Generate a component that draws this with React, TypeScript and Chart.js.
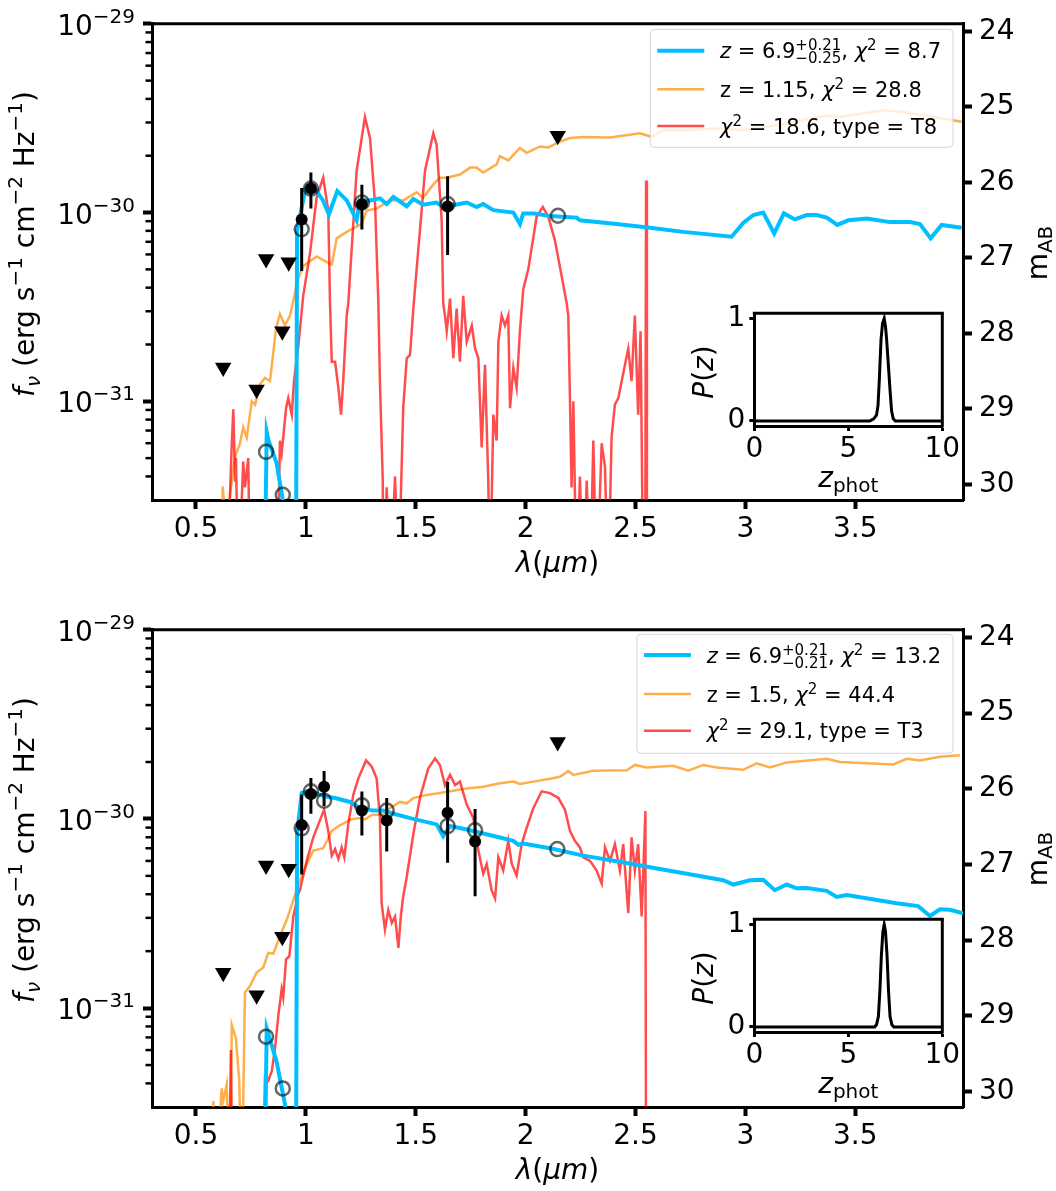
import React, { useEffect, useRef } from 'react';
import { Chart, registerables } from 'chart.js';

Chart.register(...registerables);

const FONT = "'DejaVu Sans', 'Noto Sans', sans-serif";
const W = 1056;

// ---------- axis ranges and ticks ----------
const FLUX_UNIT = 1e-30; // erg s^-1 cm^-2 Hz^-1
const FLUX_MIN = 3.0e-32;
const FLUX_MAX = 1e-29;
const LAM_MIN = 0.3;
const LAM_MAX = 3.99;
const LAM_TICKS = [0.5, 1, 1.5, 2, 2.5, 3, 3.5];
const MAG_TICKS = [24, 25, 26, 27, 28, 29, 30];
const FLUX_MAJOR_EXP = [-31, -30, -29];
const PZ_X_TICKS = [0, 5, 10];
const PZ_Y_TICKS = [0, 1];

const BLUE = 'rgb(0,191,255)';
const ORANGE = 'rgba(255,140,0,0.7)';
const RED = 'rgba(255,0,0,0.7)';
const GREY = 'rgba(0,0,0,0.6)';

// ---------- panel A (top) : [lambda (um), flux (1e-30 cgs)] ----------
const A_BLUE = [[0.800,0.01],[0.812,0.01],[0.822,0.0686],[0.830,0.062],[0.867,0.047],[0.895,0.030],[0.910,0.01],[0.955,0.01],[0.960,0.80],[0.998,1.34],[1.004,1.36],[1.049,1.30],[1.078,1.16],[1.105,0.98],[1.143,1.30],[1.186,1.16],[1.231,0.91],[1.246,1.16],[1.292,1.16],[1.337,1.19],[1.368,1.11],[1.398,1.21],[1.459,1.08],[1.489,1.18],[1.534,1.10],[1.595,1.13],[1.625,1.07],[1.732,1.13],[1.777,1.07],[1.807,1.11],[1.853,1.03],[1.944,1.00],[1.974,0.87],[1.989,0.99],[2.035,0.99],[2.111,0.96],[2.232,0.94],[2.247,0.91],[2.414,0.87],[2.566,0.83],[2.717,0.79],[2.937,0.745],[2.990,0.88],[3.036,0.97],[3.081,1.00],[3.131,0.775],[3.175,0.99],[3.225,0.92],[3.279,0.97],[3.324,0.97],[3.370,0.94],[3.418,0.86],[3.468,0.91],[3.552,0.93],[3.658,0.89],[3.749,0.89],[3.794,0.87],[3.843,0.73],[3.893,0.86],[3.984,0.83]];
const A_ORANGE = [[0.612,0.01],[0.622,0.0354],[0.637,0.02],[0.655,0.032],[0.678,0.0508],[0.700,0.0596],[0.715,0.0728],[0.731,0.0644],[0.754,0.100],[0.769,0.096],[0.791,0.123],[0.814,0.133],[0.837,0.128],[0.864,0.242],[0.882,0.290],[0.905,0.252],[0.928,0.285],[0.951,0.377],[0.958,0.425],[0.988,0.52],[1.049,0.585],[1.079,0.56],[1.118,0.53],[1.140,0.73],[1.186,0.79],[1.254,0.87],[1.277,1.025],[1.322,1.05],[1.383,1.16],[1.443,1.16],[1.504,1.28],[1.534,1.20],[1.580,1.41],[1.610,1.53],[1.641,1.53],[1.701,1.59],[1.747,1.73],[1.777,1.73],[1.807,1.63],[1.868,1.80],[1.883,1.99],[1.921,1.89],[1.974,2.20],[2.005,2.07],[2.065,2.24],[2.103,2.21],[2.156,2.38],[2.202,2.48],[2.262,2.51],[2.384,2.50],[2.520,2.63],[2.573,2.52],[2.626,2.74],[2.748,2.74],[2.869,2.79],[2.990,2.74],[3.157,2.92],[3.279,3.11],[3.370,3.27],[3.430,3.21],[3.635,3.48],[3.734,3.39],[3.885,3.17],[3.984,3.03]];
const A_RED = [[0.640,0.01],[0.663,0.0596],[0.670,0.0908],[0.678,0.038],[0.682,0.05],[0.693,0.01],[0.715,0.048],[0.723,0.035],[0.738,0.05],[0.746,0.01],[0.870,0.01],[0.882,0.0618],[0.890,0.053],[0.910,0.092],[0.920,0.104],[0.936,0.085],[0.946,0.128],[0.966,0.198],[0.988,0.362],[1.019,0.61],[1.049,1.2],[1.079,1.53],[1.102,1.025],[1.110,0.33],[1.118,0.162],[1.133,0.162],[1.148,0.118],[1.160,0.085],[1.170,0.128],[1.186,0.285],[1.193,0.33],[1.231,1.66],[1.269,3.21],[1.292,2.48],[1.315,1.11],[1.330,0.33],[1.337,0.128],[1.350,0.038],[1.352,0.01],[1.368,0.035],[1.383,0.01],[1.406,0.040],[1.421,0.01],[1.443,0.092],[1.459,0.169],[1.474,0.176],[1.489,0.31],[1.504,0.50],[1.542,1.66],[1.580,2.63],[1.595,2.29],[1.618,0.91],[1.625,0.33],[1.633,0.285],[1.641,0.235],[1.656,0.35],[1.671,0.169],[1.686,0.31],[1.701,0.162],[1.716,0.362],[1.732,0.207],[1.755,0.252],[1.770,0.19],[1.785,0.169],[1.800,0.057],[1.815,0.156],[1.830,0.038],[1.838,0.01],[1.853,0.085],[1.868,0.062],[1.876,0.207],[1.891,0.285],[1.906,0.252],[1.921,0.285],[1.929,0.092],[1.944,0.15],[1.959,0.118],[1.974,0.235],[1.989,0.39],[2.012,0.5],[2.050,0.95],[2.078,1.07],[2.103,0.95],[2.133,0.715],[2.164,0.46],[2.187,0.33],[2.194,0.285],[2.202,0.10],[2.209,0.035],[2.217,0.10],[2.232,0.01],[2.247,0.04],[2.262,0.01],[2.278,0.038],[2.293,0.01],[2.308,0.062],[2.323,0.01],[2.346,0.06],[2.361,0.045],[2.376,0.01],[2.391,0.064],[2.406,0.096],[2.422,0.104],[2.437,0.128],[2.452,0.156],[2.467,0.19],[2.482,0.128],[2.497,0.285],[2.512,0.085],[2.523,0.235],[2.535,0.01],[2.544,0.01],[2.548,1.48],[2.552,0.01]];
// detections: [lambda, flux, sigma]
const A_DET = [[0.981,0.92,0.43],[1.023,1.34,0.29],[1.255,1.107,0.295],[1.645,1.076,0.48]];
const A_MODEL = [[0.819,0.054],[0.895,0.032],[0.981,0.816],[1.023,1.34],[1.255,1.13],[1.645,1.11],[2.147,0.962]];
const A_LIMIT = [[0.624,0.151],[0.776,0.1155],[0.819,0.567],[0.893,0.235],[0.922,0.545],[2.146,2.55]];
const A_PZ = [[0,0],[6.15,0],[6.35,0.02],[6.5,0.055],[6.58,0.15],[6.65,0.4],[6.74,0.79],[6.82,0.95],[6.91,1.0],[6.98,0.92],[7.04,0.79],[7.13,0.55],[7.22,0.3],[7.3,0.1],[7.39,0.02],[7.5,0],[10,0]];
const A_LEGEND = [
  [{ t: 'z', it: true }, { t: ' = 6.9' }, { sup: '+0.21', sub: '\u22120.25' }, { t: ', ' }, { t: '\u03c7', it: true }, { t: '2', size: 15, dy: -8 }, { t: ' = 8.7' }],
  [{ t: 'z = 1.15, ' }, { t: '\u03c7', it: true }, { t: '2', size: 15, dy: -8 }, { t: ' = 28.8' }],
  [{ t: '\u03c7', it: true }, { t: '2', size: 15, dy: -8 }, { t: ' = 18.6, type = T8' }],
];

// ---------- panel B (bottom) ----------
const B_BLUE = [[0.800,0.01],[0.811,0.01],[0.822,0.078],[0.867,0.052],[0.905,0.031],[0.930,0.01],[0.955,0.01],[0.960,0.83],[0.981,1.37],[1.019,1.41],[1.079,1.32],[1.133,1.29],[1.201,1.23],[1.246,1.14],[1.307,1.107],[1.352,1.107],[1.413,1.055],[1.474,1.01],[1.595,0.936],[1.625,0.81],[1.656,0.917],[1.732,0.88],[1.807,0.837],[1.883,0.798],[1.944,0.766],[1.967,0.73],[1.989,0.742],[2.111,0.70],[2.262,0.64],[2.414,0.598],[2.566,0.556],[2.733,0.513],[2.899,0.474],[2.945,0.45],[3.021,0.474],[3.081,0.477],[3.134,0.42],[3.188,0.45],[3.233,0.43],[3.279,0.432],[3.370,0.417],[3.415,0.387],[3.461,0.396],[3.688,0.358],[3.786,0.346],[3.840,0.307],[3.885,0.333],[3.931,0.331],[3.991,0.317]];
const B_ORANGE = [[0.570,0.01],[0.579,0.0323],[0.587,0.01],[0.617,0.0376],[0.624,0.0323],[0.640,0.0395],[0.655,0.01],[0.663,0.0813],[0.682,0.069],[0.697,0.0413],[0.708,0.01],[0.723,0.121],[0.746,0.131],[0.776,0.154],[0.806,0.164],[0.829,0.196],[0.852,0.194],[0.882,0.24],[0.913,0.293],[0.943,0.372],[0.973,0.473],[1.004,0.578],[1.034,0.68],[1.079,0.70],[1.118,0.864],[1.148,0.917],[1.186,0.966],[1.201,0.994],[1.246,1.01],[1.269,0.994],[1.300,1.05],[1.352,1.055],[1.383,1.14],[1.428,1.23],[1.459,1.21],[1.489,1.29],[1.550,1.34],[1.610,1.37],[1.671,1.41],[1.732,1.45],[1.807,1.48],[1.883,1.545],[1.944,1.575],[1.974,1.53],[2.035,1.575],[2.111,1.63],[2.156,1.67],[2.194,1.79],[2.217,1.71],[2.308,1.80],[2.460,1.81],[2.497,1.93],[2.551,1.87],[2.672,1.91],[2.740,1.80],[2.808,1.93],[2.869,1.87],[2.990,1.82],[3.051,1.97],[3.112,1.87],[3.188,1.99],[3.370,2.08],[3.430,2.00],[3.673,1.94],[3.734,2.08],[3.794,2.04],[3.885,2.13],[3.976,2.17]];
const B_RED = [[0.650,0.01],[0.659,0.060],[0.665,0.01],[0.805,0.01],[0.814,0.043],[0.829,0.0413],[0.845,0.0464],[0.860,0.0615],[0.875,0.0918],[0.890,0.126],[0.897,0.114],[0.910,0.181],[0.925,0.188],[0.943,0.305],[0.966,0.403],[0.973,0.42],[1.004,0.60],[1.034,0.80],[1.057,0.936],[1.083,1.12],[1.102,0.864],[1.118,0.64],[1.133,0.693],[1.148,0.615],[1.163,0.707],[1.175,0.627],[1.193,0.936],[1.216,1.34],[1.239,1.64],[1.274,2.04],[1.300,1.89],[1.322,1.64],[1.337,1.01],[1.345,0.358],[1.360,0.26],[1.375,0.33],[1.391,0.282],[1.406,0.305],[1.421,0.208],[1.432,0.305],[1.443,0.39],[1.459,0.493],[1.489,0.83],[1.519,1.29],[1.557,1.85],[1.588,2.09],[1.610,1.93],[1.633,1.51],[1.656,1.71],[1.679,1.51],[1.701,1.575],[1.732,1.19],[1.762,1.01],[1.785,0.68],[1.807,0.513],[1.823,0.578],[1.845,0.42],[1.861,0.38],[1.876,0.627],[1.898,0.534],[1.921,0.766],[1.937,0.578],[1.959,0.503],[1.982,0.736],[2.005,0.90],[2.035,1.14],[2.073,1.40],[2.111,1.37],[2.149,1.29],[2.179,1.12],[2.202,0.864],[2.224,0.766],[2.247,0.707],[2.262,0.627],[2.293,0.60],[2.323,0.534],[2.346,0.455],[2.361,0.707],[2.384,0.60],[2.406,0.736],[2.429,0.534],[2.444,0.736],[2.467,0.318],[2.482,0.80],[2.497,0.534],[2.512,0.736],[2.528,0.305],[2.545,1.10],[2.548,0.01]];
const B_DET = [[0.981,0.928,0.42],[1.023,1.354,0.29],[1.083,1.48,0.31],[1.255,1.107,0.29],[1.368,0.982,0.31],[1.645,1.077,0.49],[1.770,0.76,0.37]];
const B_MODEL = [[0.819,0.0706],[0.895,0.0376],[0.981,0.892],[1.023,1.40],[1.083,1.249],[1.255,1.18],[1.368,1.107],[1.645,0.917],[1.770,0.871],[2.144,0.693]];
const B_LIMIT = [[0.624,0.154],[0.776,0.117],[0.819,0.567],[0.893,0.238],[0.922,0.545],[2.146,2.55]];
const B_PZ = [[0,0],[6.4,0],[6.5,0.02],[6.6,0.1],[6.68,0.35],[6.76,0.7],[6.84,0.93],[6.91,1.0],[6.98,0.93],[7.06,0.7],[7.14,0.35],[7.22,0.1],[7.32,0.02],[7.42,0],[10,0]];
const B_LEGEND = [
  [{ t: 'z', it: true }, { t: ' = 6.9' }, { sup: '+0.21', sub: '\u22120.21' }, { t: ', ' }, { t: '\u03c7', it: true }, { t: '2', size: 15, dy: -8 }, { t: ' = 13.2' }],
  [{ t: 'z = 1.5, ' }, { t: '\u03c7', it: true }, { t: '2', size: 15, dy: -8 }, { t: ' = 44.4' }],
  [{ t: '\u03c7', it: true }, { t: '2', size: 15, dy: -8 }, { t: ' = 29.1, type = T3' }],
];

const PANELS = [
  { top: 0, height: 600, areaBottom: 500, blue: A_BLUE, orange: A_ORANGE, red: A_RED, det: A_DET, model: A_MODEL, limit: A_LIMIT, pz: A_PZ, legend: A_LEGEND, legendTop: 29.3, legendRows: [50.7, 89.3, 126], legendBottom: 147.3 },
  { top: 606, height: 585, areaBottom: 501, blue: B_BLUE, orange: B_ORANGE, red: B_RED, det: B_DET, model: B_MODEL, limit: B_LIMIT, pz: B_PZ, legend: B_LEGEND, legendTop: 28.3, legendRows: [49, 88, 124.7], legendBottom: 147.3 },
];

// ---------- helpers ----------
const magOf = (f: number) => -2.5 * Math.log10(f) - 48.6;
const toXY = (pairs: number[][]) => pairs.map(([x, f]) => ({ x, y: f * FLUX_UNIT }));

function fnt(size: number, it?: boolean) {
  return `${it ? 'italic ' : ''}${size}px ${FONT}`;
}
function richWidth(ctx: CanvasRenderingContext2D, segs: any[], base: number) {
  let w = 0;
  for (const s of segs) {
    if (s.sup !== undefined) {
      ctx.font = fnt(15);
      w += Math.max(ctx.measureText(s.sup).width, ctx.measureText(s.sub).width);
    } else {
      ctx.font = fnt(s.size ?? base, s.it);
      w += ctx.measureText(s.t).width;
    }
  }
  return w;
}
function drawRich(ctx: CanvasRenderingContext2D, segs: any[], x: number, y: number, base: number) {
  ctx.textAlign = 'left';
  ctx.textBaseline = 'alphabetic';
  ctx.fillStyle = '#000';
  let cx = x;
  for (const s of segs) {
    if (s.sup !== undefined) {
      ctx.font = fnt(15);
      ctx.fillText(s.sup, cx, y - 8);
      ctx.fillText(s.sub, cx, y + 5);
      cx += Math.max(ctx.measureText(s.sup).width, ctx.measureText(s.sub).width);
    } else {
      ctx.font = fnt(s.size ?? base, s.it);
      ctx.fillText(s.t, cx, y + (s.dy ?? 0));
      cx += ctx.measureText(s.t).width;
    }
  }
  return cx - x;
}
function line(ctx: CanvasRenderingContext2D, x1: number, y1: number, x2: number, y2: number) {
  ctx.beginPath();
  ctx.moveTo(x1, y1);
  ctx.lineTo(x2, y2);
  ctx.stroke();
}

const axisGrid = (len: number, w: number) => ({ drawOnChartArea: false, drawTicks: true, tickLength: len, tickWidth: w, tickColor: '#000' });
const axisBorder = { display: true, color: '#000', width: 3 };

function mainConfig(p: any): any {
  const datasets: any[] = [];
  datasets.push({ data: toXY(p.orange), borderColor: ORANGE, borderWidth: 2.5, pointRadius: 0, tension: 0, order: 9 });
  datasets.push({ data: toXY(p.red), borderColor: RED, borderWidth: 2.5, pointRadius: 0, tension: 0, order: 8 });
  datasets.push({ data: toXY(p.blue), borderColor: BLUE, borderWidth: 4, pointRadius: 0, tension: 0, order: 7 });
  datasets.push({ data: toXY(p.model), showLine: false, pointRadius: 7, pointBorderWidth: 2.5, pointBorderColor: GREY, pointBackgroundColor: 'rgba(0,0,0,0)', order: 6 });
  p.det.forEach(([l, f, s]: number[]) => {
    datasets.push({ data: [{ x: l, y: (f - s) * FLUX_UNIT }, { x: l, y: (f + s) * FLUX_UNIT }], borderColor: '#000', borderWidth: 3, pointRadius: 0, order: 5 });
  });
  datasets.push({ data: p.det.map(([l, f]: number[]) => ({ x: l, y: f * FLUX_UNIT })), showLine: false, pointRadius: 6, pointBorderWidth: 0, pointBackgroundColor: '#000', order: 4 });
  datasets.push({ data: toXY(p.limit), showLine: false, pointStyle: 'triangle', rotation: 180, pointRadius: 9.5, pointBorderWidth: 0, pointBackgroundColor: '#000', order: 3 });

  const decor = {
    id: 'decor',
    afterDraw(chart: any) {
      const { ctx, chartArea: ca, scales } = chart;
      const y = scales.y;
      ctx.save();
      ctx.strokeStyle = '#000';
      ctx.lineWidth = 3;
      line(ctx, ca.left - 1.5, ca.top, ca.right + 1.5, ca.top);
      // minor log ticks
      ctx.lineWidth = 2.5;
      for (let e = -32; e <= -30; e++) {
        for (let k = 2; k <= 9; k++) {
          const v = k * Math.pow(10, e);
          if (v <= FLUX_MIN * 1.02 || v >= FLUX_MAX) continue;
          const py = y.getPixelForValue(v);
          line(ctx, ca.left - 1.5 - 5, py, ca.left, py);
        }
      }
      // major log tick labels 10^n
      for (const e of FLUX_MAJOR_EXP) {
        const py = y.getPixelForValue(Math.pow(10, e));
        const sup = '\u2212' + String(-e);
        ctx.font = fnt(20);
        const ws = ctx.measureText(sup).width;
        ctx.font = fnt(28);
        const wb = ctx.measureText('10').width;
        const right = 135;
        ctx.fillStyle = '#000';
        ctx.textAlign = 'left';
        ctx.textBaseline = 'alphabetic';
        ctx.fillText('10', right - ws - wb, py + 11);
        ctx.font = fnt(20);
        ctx.fillText(sup, right - ws, py - 1);
      }
      // y title
      const ySegs = [{ t: 'f', it: true }, { t: '\u03bd', it: true, size: 20, dy: 6 }, { t: ' (erg s' }, { t: '\u22121', size: 20, dy: -12 }, { t: ' cm' }, { t: '\u22122', size: 20, dy: -12 }, { t: ' Hz' }, { t: '\u22121', size: 20, dy: -12 }, { t: ')' }];
      ctx.save();
      ctx.translate(34, 244);
      ctx.rotate(-Math.PI / 2);
      drawRich(ctx, ySegs, -richWidth(ctx, ySegs, 28) / 2, 0, 28);
      ctx.restore();
      // right title
      const mSegs = [{ t: 'm' }, { t: 'AB', size: 20, dy: 5 }];
      ctx.save();
      ctx.translate(1047, 253);
      ctx.rotate(-Math.PI / 2);
      drawRich(ctx, mSegs, -richWidth(ctx, mSegs, 28) / 2, 0, 28);
      ctx.restore();
      // x title
      const xSegs = [{ t: '\u03bb', it: true }, { t: '(' }, { t: '\u03bc', it: true }, { t: 'm', it: true }, { t: ')' }];
      const xw = richWidth(ctx, xSegs, 28);
      drawRich(ctx, xSegs, (ca.left + ca.right) / 2 - xw / 2, ca.bottom + 72, 28);
      // legend
      const tw = Math.max(...p.legend.map((r: any[]) => richWidth(ctx, r, 21)));
      const boxR = 953;
      const boxL = boxR - (7 + 47 + 15.7 + tw + 12);
      const boxT = p.legendTop;
      const boxB = p.legendBottom;
      ctx.beginPath();
      ctx.roundRect(boxL, boxT, boxR - boxL, boxB - boxT, 4);
      ctx.fillStyle = 'rgba(255,255,255,0.8)';
      ctx.fill();
      ctx.strokeStyle = 'rgba(204,204,204,0.8)';
      ctx.lineWidth = 1;
      ctx.stroke();
      const cols = [BLUE, ORANGE, RED];
      const lws = [4, 2.5, 2.5];
      p.legend.forEach((row: any[], i: number) => {
        const ry = p.legendRows[i];
        ctx.strokeStyle = cols[i];
        ctx.lineWidth = lws[i];
        line(ctx, boxL + 7, ry, boxL + 54, ry);
        drawRich(ctx, row, boxL + 7 + 47 + 15.7, ry + 7.5, 21);
      });
      ctx.restore();
    },
  };

  return {
    type: 'line',
    data: { datasets },
    options: {
      animation: false,
      responsive: false,
      devicePixelRatio: 1,
      events: [],
      layout: { padding: { top: 17, left: 0, right: 0, bottom: 0 } },
      plugins: { legend: { display: false }, tooltip: { enabled: false } },
      scales: {
        x: {
          type: 'linear', min: LAM_MIN, max: LAM_MAX,
          afterBuildTicks: (s: any) => { s.ticks = LAM_TICKS.map((v) => ({ value: v })); },
          afterFit: (s: any) => { s.height = p.height - p.areaBottom; },
          ticks: { font: { family: FONT, size: 28 }, color: '#000', padding: 4, maxRotation: 0, autoSkip: false, callback: (v: any) => String(v) },
          grid: axisGrid(9, 4), border: axisBorder,
        },
        y: {
          type: 'logarithmic', position: 'left', min: FLUX_MIN, max: FLUX_MAX,
          afterBuildTicks: (s: any) => { s.ticks = FLUX_MAJOR_EXP.map((e) => ({ value: Math.pow(10, e) })); },
          afterFit: (s: any) => { s.width = 152; },
          ticks: { font: { family: FONT, size: 28 }, callback: () => '', autoSkip: false },
          grid: axisGrid(9, 4), border: axisBorder,
        },
        m: {
          type: 'linear', position: 'right', min: magOf(FLUX_MAX), max: magOf(FLUX_MIN), reverse: true,
          afterBuildTicks: (s: any) => { s.ticks = MAG_TICKS.map((v) => ({ value: v })); },
          afterFit: (s: any) => { s.width = W - 963; },
          ticks: { font: { family: FONT, size: 28 }, color: '#000', padding: 7, autoSkip: false, callback: (v: any) => String(v) },
          grid: axisGrid(9, 4), border: axisBorder,
        },
      },
    },
    plugins: [decor],
  };
}

function insetConfig(p: any): any {
  const deco = {
    id: 'insetDeco',
    beforeDraw(chart: any) {
      const { ctx, chartArea: ca } = chart;
      ctx.save();
      ctx.fillStyle = '#fff';
      ctx.fillRect(ca.left, ca.top, ca.right - ca.left, ca.bottom - ca.top);
      ctx.restore();
    },
    afterDraw(chart: any) {
      const { ctx, chartArea: ca } = chart;
      ctx.save();
      ctx.strokeStyle = '#000';
      ctx.lineWidth = 3;
      line(ctx, ca.left - 1.5, ca.top, ca.right + 1.5, ca.top);
      line(ctx, ca.right, ca.top, ca.right, ca.bottom + 1.5);
      const pSegs = [{ t: 'P', it: true }, { t: '(' }, { t: 'z', it: true }, { t: ')' }];
      ctx.save();
      ctx.translate(33, 92);
      ctx.rotate(-Math.PI / 2);
      drawRich(ctx, pSegs, -richWidth(ctx, pSegs, 28) / 2, 0, 28);
      ctx.restore();
      const zSegs = [{ t: 'z', it: true }, { t: 'phot', size: 20, dy: 5 }];
      const zw = richWidth(ctx, zSegs, 28);
      drawRich(ctx, zSegs, (ca.left + ca.right) / 2 - zw / 2, 207, 28);
      ctx.restore();
    },
  };
  return {
    type: 'line',
    data: { datasets: [{ data: p.pz.map(([z, v]: number[]) => ({ x: z, y: v })), borderColor: '#000', borderWidth: 3, pointRadius: 0, tension: 0 }] },
    options: {
      animation: false,
      responsive: false,
      devicePixelRatio: 1,
      events: [],
      layout: { padding: { top: 33.3, right: 27.7, left: 0, bottom: 0 } },
      plugins: { legend: { display: false }, tooltip: { enabled: false } },
      scales: {
        x: {
          type: 'linear', min: 0, max: 10,
          afterBuildTicks: (s: any) => { s.ticks = PZ_X_TICKS.map((v) => ({ value: v })); },
          afterFit: (s: any) => { s.height = 84; },
          ticks: { font: { family: FONT, size: 28 }, color: '#000', padding: 2, maxRotation: 0, autoSkip: false },
          grid: axisGrid(5, 3), border: axisBorder,
        },
        y: {
          type: 'linear', min: -0.05, max: 1.05,
          afterBuildTicks: (s: any) => { s.ticks = PZ_Y_TICKS.map((v) => ({ value: v })); },
          afterFit: (s: any) => { s.width = 74.3; },
          ticks: { font: { family: FONT, size: 28 }, color: '#000', padding: 4, autoSkip: false },
          grid: axisGrid(5, 3), border: axisBorder,
        },
      },
    },
    plugins: [deco],
  };
}

function Panel({ p }: { p: any }) {
  const mainRef = useRef<HTMLCanvasElement>(null);
  const insetRef = useRef<HTMLCanvasElement>(null);
  useEffect(() => {
    const c1 = new Chart(mainRef.current as HTMLCanvasElement, mainConfig(p));
    const c2 = new Chart(insetRef.current as HTMLCanvasElement, insetConfig(p));
    return () => { c1.destroy(); c2.destroy(); };
  }, [p]);
  return (
    <div style={{ position: 'absolute', left: 0, top: p.top, width: W, height: p.height }}>
      <canvas ref={mainRef} width={W} height={p.height} style={{ position: 'absolute', left: 0, top: 0 }} />
      <canvas ref={insetRef} width={290} height={230} style={{ position: 'absolute', left: 680, top: 280 }} />
    </div>
  );
}

export default function App() {
  return (
    <div style={{ position: 'absolute', left: 0, top: 0, width: W, height: 1191, background: '#fff', overflow: 'hidden' }}>
      {PANELS.map((p, i) => <Panel key={i} p={p} />)}
    </div>
  );
}
